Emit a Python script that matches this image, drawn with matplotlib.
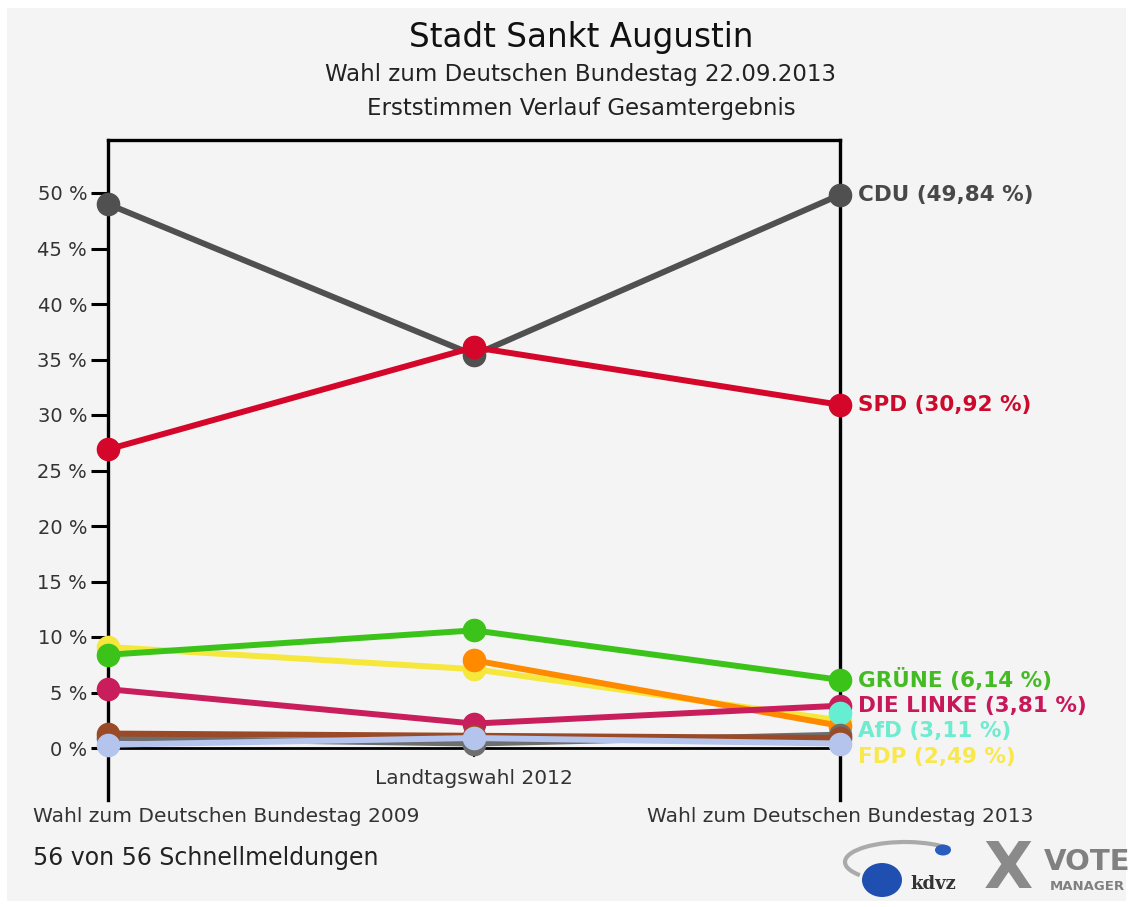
import numpy as np
import matplotlib
matplotlib.use("Agg")
import matplotlib.pyplot as plt
from matplotlib.patches import Rectangle, Ellipse, Arc

# Elections (x categories)
elections = [
    "Wahl zum Deutschen Bundestag 2009",
    "Landtagswahl 2012",
    "Wahl zum Deutschen Bundestag 2013",
]

# Erststimmen in % (nan = not standing)
cdu = [49.0, 35.4, 49.84]
spd = [26.9, 36.1, 30.92]
gruene = [8.4, 10.6, 6.14]
fdp = [9.1, 7.1, 2.49]
linke = [5.3, 2.2, 3.81]
afd = [np.nan, np.nan, 3.11]
piraten = [np.nan, 7.9, 2.0]
sonstige_a = [1.3, 1.1, 0.9]
sonstige_b = [0.9, 0.4, 1.2]
sonstige_c = [0.3, 0.9, 0.4]

y_ticks = [0, 5, 10, 15, 20, 25, 30, 35, 40, 45, 50]

# drawing order: later ones lie on top
series = [
    ("FDP", fdp, "#f6e73c"),
    ("GRÜNE", gruene, "#3cc31a"),
    ("PIRATEN", piraten, "#ff8a00"),
    ("DIE LINKE", linke, "#c81f5c"),
    ("AfD", afd, "#66eed2"),
    ("Sonstige B", sonstige_b, "#6e6e6e"),
    ("Sonstige A", sonstige_a, "#9a4a26"),
    ("Sonstige C", sonstige_c, "#b4c4ec"),
    ("CDU", cdu, "#505050"),
    ("SPD", spd, "#d4062a"),
]
label_colors = {
    "CDU": "#484848",
    "SPD": "#cc0a2c",
    "GRÜNE": "#44bb22",
    "DIE LINKE": "#c8185a",
    "AfD": "#6eecd0",
    "FDP": "#f8e84a",
}
labelled = ["CDU", "SPD", "GRÜNE", "DIE LINKE", "AfD", "FDP"]

W, H = 1133, 907
fig = plt.figure(figsize=(W / 100, H / 100), dpi=100, facecolor="white")
fig.patches.append(Rectangle((7 / W, 6 / H), 1 - 14 / W, 1 - 14 / H,
                             transform=fig.transFigure, facecolor="#f4f4f4",
                             edgecolor="none", zorder=-10))

# axes box: x 108..840 px, y 140..800 px
ax = fig.add_axes([108 / W, 1 - 800 / H, (840 - 108) / W, (800 - 140) / H])
ax.set_facecolor("#f4f4f4")
x = np.arange(len(elections))
ax.set_xlim(0, 2)
px_per_pct = 11.1
ax.set_ylim(-(800 - 748) / px_per_pct, (748 - 140) / px_per_pct)

for name, vals, col in series:
    ax.plot(x, vals, color=col, lw=4.3, marker="o", markersize=16,
            solid_capstyle="round", zorder=3, clip_on=False)

# zero line
ax.plot([0, 2], [0, 0], color="black", lw=2, zorder=2)
# tick for Landtagswahl 2012
ax.plot([1, 1], [0, -0.7], color="black", lw=1.5, zorder=2)

for s in ["left", "right", "top"]:
    ax.spines[s].set_linewidth(2.4)
    ax.spines[s].set_color("black")
ax.spines["bottom"].set_visible(False)

ax.set_yticks(y_ticks)
ax.set_yticklabels([f"{t} %" for t in y_ticks], fontsize=14, color="#333333")
ax.tick_params(axis="y", length=12, width=2.2, pad=3, colors="black",
               labelcolor="#333333")
ax.set_xticks([])

# category labels
ax.text(1, -(778 - 748) / px_per_pct, elections[1], ha="center", va="center",
        fontsize=14.5, color="#333333")
fig.text(33 / W, 1 - 817 / H, elections[0], ha="left", va="center",
         fontsize=14.5, color="#333333")
fig.text(840 / W, 1 - 817 / H, elections[2], ha="center", va="center",
         fontsize=14.5, color="#333333")

# end labels with simple overlap avoidance
ends = [(n, v[2]) for n, v, c in series if n in labelled]
ends.sort(key=lambda t: -t[1])
gap = 2.3
last = None
for name, val in ends:
    yy = val if last is None else min(val, last - gap)
    last = yy
    txt = f"{name} ({val:.2f} %)".replace(".", ",")
    ax.text(2.05, yy, txt, ha="left", va="center", fontsize=15.5,
            fontweight="bold", color=label_colors[name], clip_on=False)

# titles
fig.text(0.5127, 1 - 38 / H, "Stadt Sankt Augustin", ha="center", va="center",
         fontsize=23.5, color="#111111")
fig.text(0.5127, 1 - 75 / H, "Wahl zum Deutschen Bundestag 22.09.2013",
         ha="center", va="center", fontsize=16.5, color="#222222")
fig.text(0.5127, 1 - 108 / H, "Erststimmen Verlauf Gesamtergebnis",
         ha="center", va="center", fontsize=16.5, color="#222222")

fig.text(33 / W, 1 - 858 / H, "56 von 56 Schnellmeldungen", ha="left",
         va="center", fontsize=17, color="#222222")

# logos (rough)
fig.patches.append(Arc((905 / W, 1 - 862 / H), 120 / W, 40 / H, theta1=20,
                       theta2=200, transform=fig.transFigure,
                       color="#aaaaaa", lw=3))
fig.patches.append(Ellipse((882 / W, 1 - 880 / H), 40 / W, 34 / H,
                           transform=fig.transFigure, facecolor="#1f4fb0",
                           edgecolor="none"))
fig.patches.append(Ellipse((943 / W, 1 - 850 / H), 16 / W, 11 / H,
                           transform=fig.transFigure, facecolor="#2a5cc0",
                           edgecolor="none"))
fig.text(933 / W, 1 - 884 / H, "kdvz", ha="center", va="center", fontsize=13,
         fontweight="bold", family="DejaVu Serif", color="#333333")
fig.text(1008 / W, 1 - 870 / H, "X", ha="center", va="center", fontsize=46,
         fontweight="bold", color="#8a8a8a")
fig.text(1087 / W, 1 - 862 / H, "VOTE", ha="center", va="center", fontsize=21,
         fontweight="bold", color="#808080")
fig.text(1087 / W, 1 - 887 / H, "MANAGER", ha="center", va="center",
         fontsize=9.5, fontweight="bold", color="#808080")

fig.savefig("out.png", dpi=100, facecolor=fig.get_facecolor())
